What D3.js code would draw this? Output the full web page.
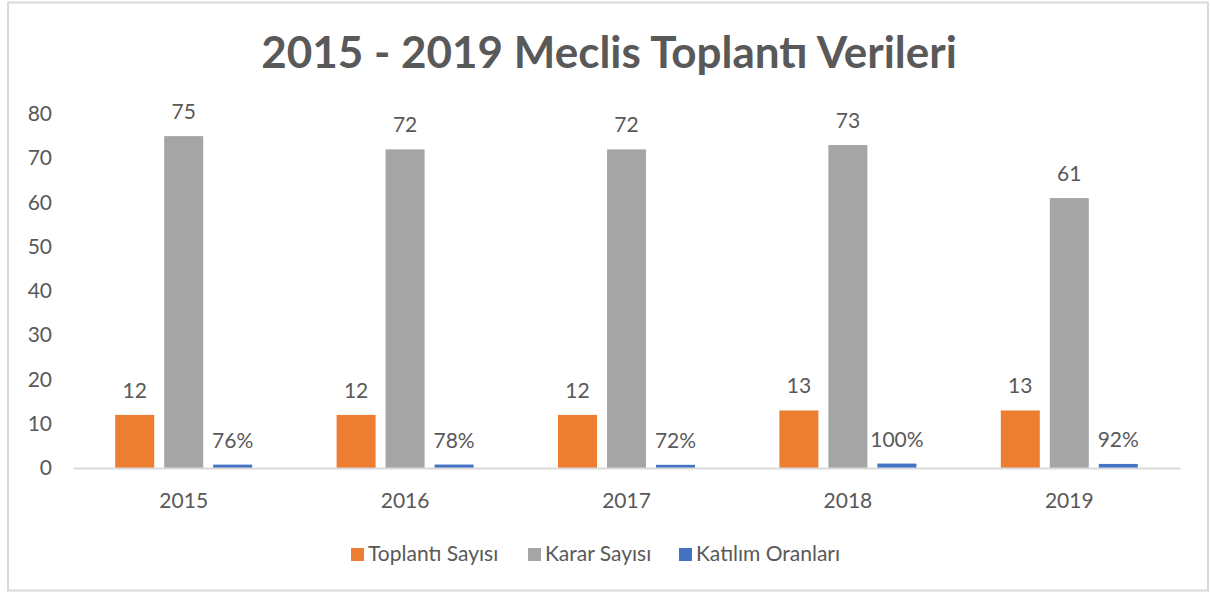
<!DOCTYPE html>
<html>
<head>
<meta charset="utf-8">
<script src="https://cdn.jsdelivr.net/npm/d3@7"></script>
<style>
  body { margin: 0; background: #fff; }
  text { font-family: Lato, "Open Sans", sans-serif; fill: #595959; }
</style>
</head>
<body>
<script>
// veriler
const years = ["2015", "2016", "2017", "2018", "2019"];
const seriesNames = ["Toplantı Sayısı", "Karar Sayısı", "Katılım Oranları"];
const toplanti = [12, 12, 12, 13, 13];
const karar = [75, 72, 72, 73, 61];
const katilim = [0.76, 0.78, 0.72, 1.00, 0.92];
const yTicks = [0, 10, 20, 30, 40, 50, 60, 70, 80];
const colors = ["#ED7D31", "#A5A5A5", "#4472C4"];

const seriesValues = [toplanti, karar, katilim];
const fmt = [d => d, d => d, d => Math.round(d * 100) + "%"];

const W = 1210, H = 592;
const svg = d3.select("body").append("svg")
    .attr("width", W)
    .attr("height", H);

// çerçeve
svg.append("rect")
    .attr("x", 8).attr("y", 2.5)
    .attr("width", 1200).attr("height", 588)
    .attr("fill", "#fff")
    .attr("stroke", "#d9d9d9")
    .attr("stroke-width", 2);

// başlık
svg.append("text")
    .attr("x", 609)
    .attr("y", 68)
    .attr("text-anchor", "middle")
    .style("font-size", "44px")
    .style("font-weight", "bold")
    .text("2015 - 2019 Meclis Toplantı Verileri");

let x0 = d3.scaleBand()
    .domain(years)
    .range([73, 1180]);

let x1 = d3.scaleBand()
    .domain(d3.range(seriesNames.length))
    .range([0, x0.bandwidth()])
    .paddingInner(0.204)
    .paddingOuter(0.861);

let y = d3.scaleLinear()
    .domain([0, 80])
    .range([468, 114]);

// y ekseni
let yAxis = svg.append("g")
    .attr("transform", "translate(52,0)")
    .call(d3.axisLeft(y).tickValues(yTicks).tickSize(0).tickPadding(0));
yAxis.select(".domain").remove();
yAxis.selectAll("text")
    .style("font-size", "21px")
    .attr("fill", "#595959")
    .style("font-family", "Lato, 'Open Sans', sans-serif");

// barlar
const rows = years.map((yr, i) => ({ year: yr, vals: seriesValues.map(s => s[i]) }));

let groups = svg.selectAll(".grp")
    .data(rows)
  .enter().append("g")
    .attr("class", "grp")
    .attr("transform", d => "translate(" + x0(d.year) + ",0)");

groups.selectAll("rect")
    .data(d => d.vals.map((v, k) => ({ k: k, v: v })))
  .enter().append("rect")
    .attr("x", d => x1(d.k))
    .attr("y", d => y(d.v))
    .attr("width", x1.bandwidth())
    .attr("height", d => y(0) - y(d.v))
    .attr("fill", d => colors[d.k]);

groups.selectAll(".lbl")
    .data(d => d.vals.map((v, k) => ({ k: k, v: v })))
  .enter().append("text")
    .attr("class", "lbl")
    .attr("x", d => x1(d.k) + x1.bandwidth() / 2)
    .attr("y", d => y(d.v) - 17)
    .attr("text-anchor", "middle")
    .style("font-size", "21px")
    .text(d => fmt[d.k](d.v));

// x ekseni
let xAxis = svg.append("g")
    .attr("transform", "translate(0," + y(0) + ")")
    .call(d3.axisBottom(x0).tickSize(0).tickPadding(0).tickSizeOuter(0));
xAxis.select(".domain")
    .attr("stroke", "#d9d9d9")
    .attr("stroke-width", 2);
xAxis.selectAll("text")
    .attr("y", 40)
    .attr("dy", 0)
    .style("font-size", "21px")
    .attr("fill", "#595959")
    .style("font-family", "Lato, 'Open Sans', sans-serif");

// lejant
const legendX = [351, 528, 679];
let legend = svg.selectAll(".leg")
    .data(seriesNames)
  .enter().append("g")
    .attr("class", "leg")
    .attr("transform", (d, i) => "translate(" + legendX[i] + ",548)");

legend.append("rect")
    .attr("width", 13).attr("height", 13)
    .attr("fill", (d, i) => colors[i]);

legend.append("text")
    .attr("x", 17)
    .attr("y", 13)
    .style("font-size", "21px")
    .text(d => d);
</script>
</body>
</html>
